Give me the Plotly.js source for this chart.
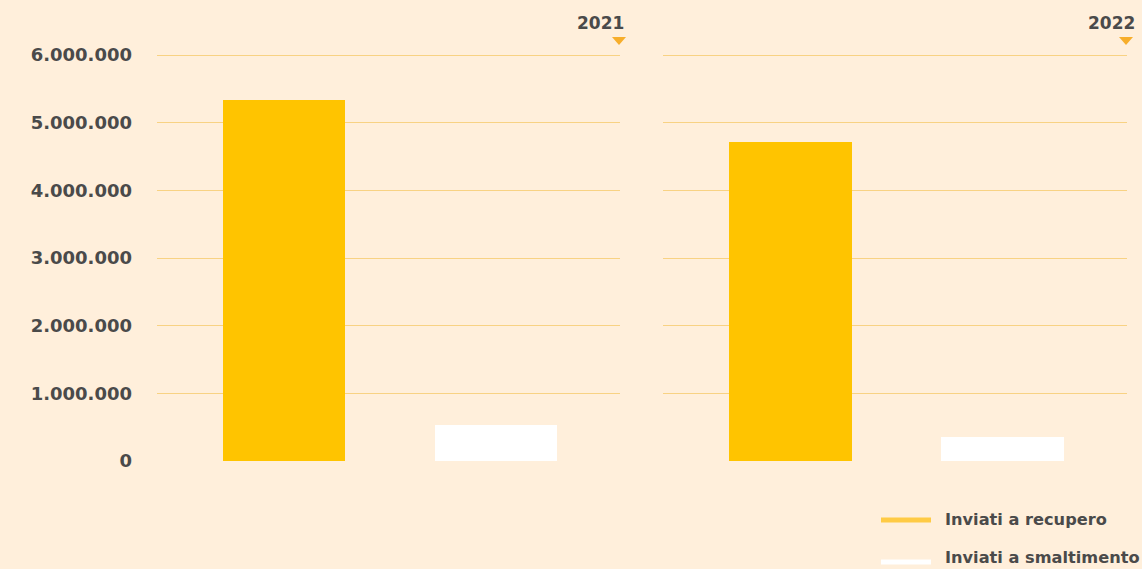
<!DOCTYPE html>
<html>
<head>
<meta charset="utf-8">
<script src="https://cdn.plot.ly/plotly-3.0.1.min.js"></script>
<style>
  html, body { margin: 0; padding: 0; background: #FFEFDB; }
  #chart { width: 1142px; height: 569px; }
</style>
</head>
<body>
<div id="chart"></div>
<script>
// data
const years = ['2021', '2022'];
const series = ['Inviati a recupero', 'Inviati a smaltimento'];
const recupero = [5340000, 4710000];
const smaltimento = [530000, 355000];
const yTicks = [0, 1000000, 2000000, 3000000, 4000000, 5000000, 6000000];

// styles
const bg = '#FFEFDB';
const barColors = ['#FFC400', '#FFFFFF'];
const legendColors = ['#FFCB45', '#FFFFFF'];
const triColor = '#F7AE2B';
const gridColor = '#F8D283';
const textColor = '#4A4A4A';
const fontFamily = '"DejaVu Sans", "Open Sans", sans-serif';

const W = 1142, H = 569;
const M = {l: 157, r: 15, t: 53, b: 108};
const plotW = W - M.l - M.r;
const plotH = H - M.t - M.b;
const split = [(620 - M.l) / plotW, (663 - M.l) / plotW];

// one trace per year panel
const traces = years.map(function(yr, i) {
    return {
        type: 'bar',
        x: series,
        y: [recupero[i], smaltimento[i]],
        xaxis: i === 0 ? 'x' : 'x2',
        yaxis: 'y',
        width: 0.579,
        marker: {color: barColors, line: {width: 0}},
        showlegend: false,
        hoverinfo: 'x+y'
    };
});

function px2paperX(p) { return (p - M.l) / plotW; }
function px2paperY(p) { return (H - M.b - p) / plotH; }

// year labels and triangles above each panel
const annotations = [];
const shapes = [];
const yearRight = [626, 1137];
const triRight = [626, 1133];
years.forEach(function(yr, i) {
    annotations.push({
        text: '<b>' + yr + '</b>',
        xref: 'paper', yref: 'paper',
        x: px2paperX(yearRight[i]), y: px2paperY(23),
        xanchor: 'right', yanchor: 'middle',
        showarrow: false,
        font: {size: 17, color: textColor, family: fontFamily}
    });
    const r = triRight[i];
    shapes.push({
        type: 'path',
        xref: 'paper', yref: 'paper',
        path: 'M ' + px2paperX(r - 14) + ' ' + px2paperY(37) +
              ' L ' + px2paperX(r) + ' ' + px2paperY(37) +
              ' L ' + px2paperX(r - 7) + ' ' + px2paperY(45) + ' Z',
        fillcolor: triColor,
        line: {width: 0}
    });
});

// legend built by hand (line swatches)
const legendY = [520, 562];
const legendTextY = [519, 557];
series.forEach(function(name, i) {
    shapes.push({
        type: 'line',
        xref: 'paper', yref: 'paper',
        x0: px2paperX(881), x1: px2paperX(931),
        y0: px2paperY(legendY[i]), y1: px2paperY(legendY[i]),
        line: {color: legendColors[i], width: 5}
    });
    annotations.push({
        text: '<b>' + name + '</b>',
        xref: 'paper', yref: 'paper',
        x: px2paperX(943), y: px2paperY(legendTextY[i]),
        xanchor: 'left', yanchor: 'middle',
        showarrow: false,
        font: {size: 16.2, color: textColor, family: fontFamily}
    });
});

const xBase = {
    type: 'category',
    range: [-0.6, 1.585],
    showticklabels: false,
    showgrid: false,
    zeroline: false,
    showline: false,
    ticks: '',
    fixedrange: true
};

const layout = {
    width: W,
    height: H,
    margin: M,
    paper_bgcolor: bg,
    plot_bgcolor: bg,
    separators: ',.',
    font: {family: fontFamily, color: textColor},
    bargap: 0,
    showlegend: false,
    xaxis: Object.assign({}, xBase, {domain: [0, split[0]], anchor: 'y'}),
    xaxis2: Object.assign({}, xBase, {domain: [split[1], 1], anchor: 'free', position: 0}),
    yaxis: {
        range: [0, 6030000],
        tickvals: yTicks,
        tickformat: ',d',
        showgrid: true,
        gridcolor: gridColor,
        gridwidth: 1,
        zeroline: true,
        zerolinecolor: 'rgba(0,0,0,0)',
        showline: false,
        ticks: '',
        ticklabelstandoff: 24,
        tickfont: {size: 18, color: textColor, family: fontFamily, weight: 'bold'},
        fixedrange: true
    },
    shapes: shapes,
    annotations: annotations
};

Plotly.newPlot('chart', traces, layout, {displayModeBar: false, staticPlot: true});
</script>
</body>
</html>
